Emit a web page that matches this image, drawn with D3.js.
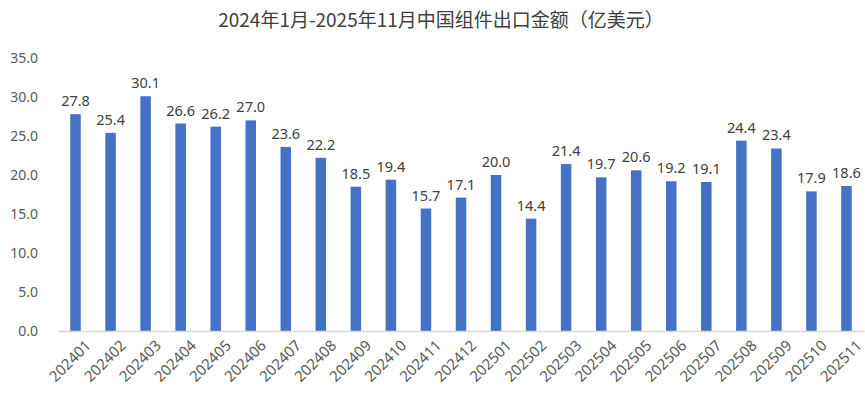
<!DOCTYPE html>
<html>
<head>
<meta charset="utf-8">
<script src="https://cdn.jsdelivr.net/npm/d3@7"></script>
<style>
  body { margin: 0; background: #fff; }
  text { font-family: "Noto Sans", "Noto Sans CJK SC", sans-serif; }
</style>
</head>
<body>
<div id="vis"></div>
<script>
const FRAME_WIDTH = 865;
const FRAME_HEIGHT = 398;
const MARGINS = {left: 58, right: 1, top: 58, bottom: 67};
const VIS_WIDTH = FRAME_WIDTH - MARGINS.left - MARGINS.right;
const VIS_HEIGHT = FRAME_HEIGHT - MARGINS.top - MARGINS.bottom;

const TITLE = "2024年1月-2025年11月中国组件出口金额（亿美元）";
const months = ["202401", "202402", "202403", "202404", "202405", "202406", "202407", "202408",
  "202409", "202410", "202411", "202412", "202501", "202502", "202503", "202504", "202505",
  "202506", "202507", "202508", "202509", "202510", "202511"];
const values = [27.8, 25.4, 30.1, 26.6, 26.2, 27.0, 23.6, 22.2, 18.5, 19.4, 15.7, 17.1, 20.0,
  14.4, 21.4, 19.7, 20.6, 19.2, 19.1, 24.4, 23.4, 17.9, 18.6];
const yTicks = [0, 5, 10, 15, 20, 25, 30, 35];

const data = months.map((m, i) => ({month: m, value: values[i]}));

const FRAME = d3.select("#vis")
  .append("svg")
  .attr("width", FRAME_WIDTH)
  .attr("height", FRAME_HEIGHT);

FRAME.append("text")
  .attr("x", 441)
  .attr("y", 27)
  .attr("text-anchor", "middle")
  .attr("font-size", "19px")
  .attr("fill", "#404040")
  .style("font-family", "'Noto Sans CJK SC', sans-serif")
  .text(TITLE);

const X_SCALE = d3.scaleBand()
  .domain(months)
  .range([0, VIS_WIDTH])
  .paddingInner(0.7)
  .paddingOuter(0.35);

const Y_SCALE = d3.scaleLinear()
  .domain([0, 35])
  .range([VIS_HEIGHT, 0]);

const g = FRAME.append("g")
  .attr("transform", "translate(" + MARGINS.left + "," + MARGINS.top + ")");

// y axis labels only, no line
const yAxis = g.append("g")
  .call(d3.axisLeft(Y_SCALE).tickValues(yTicks).tickFormat(d3.format(".1f")).tickSize(0).tickPadding(20));
yAxis.select(".domain").remove();
yAxis.selectAll("text")
  .attr("font-size", "14px")
  .attr("fill", "#595959")
  .style("font-family", "'Noto Sans', sans-serif");

g.selectAll(".bar")
  .data(data)
  .enter()
  .append("rect")
  .attr("class", "bar")
  .attr("x", (d) => X_SCALE(d.month))
  .attr("y", (d) => Y_SCALE(d.value))
  .attr("width", X_SCALE.bandwidth())
  .attr("height", (d) => VIS_HEIGHT - Y_SCALE(d.value))
  .attr("fill", "#4472C4");

g.selectAll(".lbl")
  .data(data)
  .enter()
  .append("text")
  .attr("class", "lbl")
  .attr("x", (d) => X_SCALE(d.month) + X_SCALE.bandwidth() / 2)
  .attr("y", (d) => Y_SCALE(d.value) - 8)
  .attr("text-anchor", "middle")
  .attr("font-size", "14.5px")
  .attr("fill", "#404040")
  .text((d) => d.value.toFixed(1));

// x axis
const xAxis = g.append("g")
  .attr("transform", "translate(0," + VIS_HEIGHT + ")")
  .call(d3.axisBottom(X_SCALE).tickSize(0).tickPadding(8));
xAxis.select(".domain").attr("stroke", "#d9d9d9").attr("stroke-width", 1.5);
xAxis.selectAll("text")
  .attr("font-size", "15px")
  .attr("fill", "#595959")
  .attr("text-anchor", "end")
  .attr("dy", "0.35em")
  .attr("transform", "translate(7,6) rotate(-45)");
</script>
</body>
</html>
